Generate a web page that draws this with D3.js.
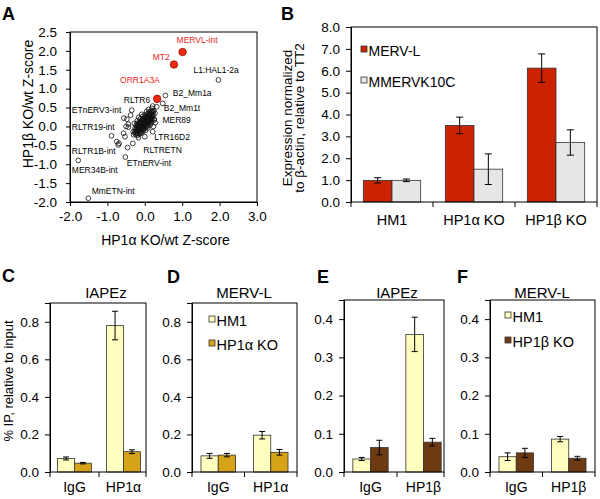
<!DOCTYPE html>
<html><head><meta charset="utf-8">
<script src="https://cdn.jsdelivr.net/npm/d3@7"></script>
<style>
body{margin:0;background:#fff}
svg{display:block}
text{font-family:"Liberation Sans",Arial,Helvetica,sans-serif;fill:#000}
</style></head>
<body><svg id="c" width="600" height="499"></svg>
<script>
// ---------------- DATA ----------------
// Panel A: scatter of Z-scores (x: HP1a KO/wt, y: HP1b KO/wt)
const scatterPoints = [
 [-0.30,-0.22],[-0.27,-0.15],[-0.25,-0.20],[-0.24,-0.08],[-0.22,-0.12],[-0.21,-0.02],[-0.20,-0.18],[-0.19,0.05],
 [-0.18,-0.06],[-0.17,0.02],[-0.16,-0.14],[-0.15,0.10],[-0.14,-0.03],[-0.13,0.06],[-0.12,-0.09],[-0.11,0.14],
 [-0.10,0.01],[-0.09,0.08],[-0.08,-0.05],[-0.07,0.18],[-0.06,0.04],[-0.05,0.11],[-0.04,-0.01],[-0.03,0.15],
 [-0.02,0.07],[-0.01,0.22],[0.00,0.03],[0.01,0.12],[0.02,0.18],[0.03,0.08],[0.04,0.25],[0.05,0.14],
 [0.06,0.20],[0.07,0.05],[0.08,0.28],[0.09,0.16],[0.10,0.23],[0.11,0.10],[0.12,0.31],[0.13,0.19],
 [0.14,0.26],[0.15,0.14],[0.16,0.34],[0.17,0.22],[0.18,0.29],[0.20,0.38],[0.21,0.25],[0.22,0.32],
 [0.24,0.42],[0.25,0.20],[-0.26,-0.05],[-0.23,0.03],[-0.19,-0.24],[-0.15,-0.20],[-0.12,0.20],[-0.09,-0.12],
 [-0.06,0.26],[-0.03,-0.08],[0.00,0.30],[0.03,-0.02],[0.06,0.33],[0.09,0.02],[0.12,0.38],[0.15,0.05],
 [0.18,0.12],[-0.10,-0.18],[-0.05,-0.14],[0.02,-0.10],[0.08,-0.04],[-0.28,0.08],[-0.20,0.15],[-0.16,0.24],
 [-0.08,0.32],[0.05,0.40],[0.10,0.45],[0.19,0.48],[0.27,0.35],[0.28,0.10],
 [-0.22,-0.20],[-0.20,-0.09],[-0.18,0.00],[-0.16,-0.08],[-0.14,0.02],[-0.13,-0.16],[-0.11,-0.02],[-0.10,0.08],
 [-0.08,0.12],[-0.07,-0.09],[-0.05,0.02],[-0.04,0.19],[-0.02,-0.04],[-0.01,0.10],[0.00,0.16],[0.01,0.05],
 [0.02,0.24],[0.04,0.11],[0.05,0.02],[0.06,0.27],[0.07,0.15],[0.08,0.21],[0.10,0.11],[0.11,0.32],
 [0.12,0.17],[0.13,0.24],[0.14,0.35],[0.16,0.18],[0.17,0.40],[0.19,0.21],[0.20,0.30],[0.22,0.40],
 [-0.24,-0.14],[-0.21,0.08],[-0.17,-0.11],[-0.12,0.11],[-0.06,-0.02],[-0.03,0.04],[0.03,0.14],[0.09,0.27],
 [-0.35,0.43],[-0.38,0.30],[-0.50,0.00],[-0.56,0.22],[-0.44,0.06],[-0.44,-0.02],[-0.48,0.19],[-0.57,-0.18],
 [-0.31,-0.14],[-0.17,-0.30],[0.00,-0.27],[0.21,-0.14],[0.23,0.00],[0.25,0.17],[0.32,0.52],[0.21,0.54],
 [0.32,0.70],[0.48,0.61],[0.55,0.82],[1.97,1.23],
 [-0.89,-0.25],[-0.75,-0.40],[-0.71,-0.49],[-0.69,-0.45],[-0.46,-0.56],[-0.52,-0.81],[-0.32,-0.45],[-0.53,-0.27],
 [-1.78,-0.90],[-1.51,-1.90]
];
const highlightNames = ["MERVL-int","MT2","ORR1A3A"];
const highlightX = [1.01, 0.78, 0.33];
const highlightY = [1.97, 1.64, 0.73];
const labelNames = ["L1:HAL1-2a","B2_Mm1a","RLTR6","B2_Mm1t","ETnERV3-int","MER89","RLTR19-int","LTR16D2",
                    "RLTRETN","RLTR1B-int","ETnERV-int","MER34B-int","MmETN-int"];
const labelX = [1.30, 0.75, -0.56, 0.51, -1.95, 0.47, -1.95, 0.25, -0.04, -1.95, -0.48, -1.95, -1.42];
const labelY = [1.41, 0.81, 0.62, 0.41, 0.36, 0.08, -0.09, -0.35, -0.70, -0.74, -1.05, -1.23, -1.79];
const highlightLabelX = [0.85, 0.21, -0.66];
const highlightLabelY = [2.21, 1.76, 1.15];
const aXTicks = [-2, -1, 0, 1, 2, 3];
const aYTicks = [-2, -1.5, -1, -0.5, 0, 0.5, 1, 1.5, 2, 2.5];

// Panel B: expression
const bCategories = ["HM1", "HP1\u03b1 KO", "HP1\u03b2 KO"];
const bSeriesNames = ["MERV-L", "MMERVK10C"];
const bMervl = [0.99, 3.50, 6.12];
const bMervlErr = [0.12, 0.38, 0.65];
const bMmervk = [0.99, 1.50, 2.72];
const bMmervkErr = [0.06, 0.70, 0.58];
const bTicks = [0, 1, 2, 3, 4, 5, 6, 7, 8];

// Panels C-F: ChIP % IP
const chipTicksCD = [0, 0.2, 0.4, 0.6, 0.8];
const chipTicksEF = [0, 0.1, 0.2, 0.3, 0.4];
const cCategories = ["IgG", "HP1\u03b1"];
const cHM1 = [0.072, 0.780];  const cHM1Err = [0.008, 0.076];
const cKO  = [0.047, 0.108];  const cKOErr  = [0.004, 0.010];
const dHM1 = [0.086, 0.196];  const dHM1Err = [0.013, 0.020];
const dKO  = [0.090, 0.105];  const dKOErr  = [0.009, 0.015];
const eCategories = ["IgG", "HP1\u03b2"];
const eHM1 = [0.034, 0.360];  const eHM1Err = [0.004, 0.045];
const eKO  = [0.064, 0.078];  const eKOErr  = [0.019, 0.010];
const fHM1 = [0.040, 0.086];  const fHM1Err = [0.010, 0.007];
const fKO  = [0.050, 0.036];  const fKOErr  = [0.012, 0.005];
const legendCD = ["HM1", "HP1\u03b1 KO"];
const legendEF = ["HM1", "HP1\u03b2 KO"];

// ---------------- DRAW ----------------
const svg = d3.select("#c");
svg.append("rect").attr("width",600).attr("height",499).attr("fill","#fff");
const FONT_TICK = "13.5px";
const fmt1 = v => v.toFixed(1);

function styleAxis(g){
  g.selectAll("path.domain").attr("stroke","#000").attr("stroke-width",1);
  g.selectAll(".tick line").attr("stroke","#000").attr("stroke-width",1);
  g.selectAll(".tick text").attr("font-size",FONT_TICK).attr("fill","#000")
    .attr("font-family","'Liberation Sans',Arial,sans-serif");
}
function letter(t,x,y){
  svg.append("text").attr("x",x).attr("y",y).attr("font-size","18px").attr("font-weight","bold").text(t);
}

// ---- Panel A ----
(function(){
  const L=70,R=257,T=32,B=202;
  const x = d3.scaleLinear().domain([-2,3]).range([L,R]);
  const y = d3.scaleLinear().domain([-2,2.5]).range([B,T]);
  const g = svg.append("g");
  g.append("rect").attr("x",L).attr("y",T).attr("width",R-L).attr("height",B-T)
    .attr("fill","none").attr("stroke","#000").attr("stroke-width",1);
  const gx = g.append("g").attr("transform",`translate(0,${B})`)
    .call(d3.axisBottom(x).tickValues(aXTicks).tickFormat(fmt1).tickSize(4).tickPadding(5));
  styleAxis(gx);
  const gy = g.append("g").attr("transform",`translate(${L},0)`)
    .call(d3.axisLeft(y).tickValues(aYTicks).tickFormat(fmt1).tickSize(4).tickPadding(9));
  styleAxis(gy);
  g.selectAll("circle.pt").data(scatterPoints).enter().append("circle")
    .attr("cx",d=>x(d[0])).attr("cy",d=>y(d[1])).attr("r",2.4)
    .attr("fill","none").attr("stroke","#111").attr("stroke-width",0.8);
  g.selectAll("circle.hl").data(highlightNames).enter().append("circle")
    .attr("cx",(d,i)=>x(highlightX[i])).attr("cy",(d,i)=>y(highlightY[i])).attr("r",3.8)
    .attr("fill","#f02a10").attr("stroke","#700").attr("stroke-width",0.6);
  g.selectAll("text.lab").data(labelNames).enter().append("text")
    .attr("x",(d,i)=>x(labelX[i])).attr("y",(d,i)=>y(labelY[i]))
    .attr("font-size","8.5px").attr("fill","#111").text(d=>d);
  g.selectAll("text.hlab").data(highlightNames).enter().append("text")
    .attr("x",(d,i)=>x(highlightLabelX[i])).attr("y",(d,i)=>y(highlightLabelY[i]))
    .attr("font-size","8.5px").style("fill","#e8261c").text(d=>d);
  svg.append("text").attr("x",(L+R)/2+2).attr("y",245).attr("text-anchor","middle")
    .attr("font-size","14px").text("HP1\u03b1 KO/wt Z-score");
  svg.append("text").attr("transform","translate(33,104) rotate(-90)").attr("text-anchor","middle")
    .attr("font-size","14px").text("HP1\u03b2 KO/wt Z-score");
  letter("A",2,20);
})();

// ---- generic grouped bar panel ----
function barPanel(o){
  const x0 = d3.scaleBand().domain(o.cats).range([o.L,o.RS]).paddingInner(0).paddingOuter(0);
  const x1 = d3.scaleBand().domain(d3.range(o.series.length)).range([0,x0.bandwidth()])
    .paddingInner(0).paddingOuter(o.pad);
  const y = d3.scaleLinear().domain([0,o.yMax]).range([o.B,o.T]);
  const g = svg.append("g");
  o.series.forEach((s,si)=>{
    g.selectAll(null).data(s.vals).enter().append("rect")
      .attr("x",(d,i)=>x0(o.cats[i])+x1(si)).attr("width",x1.bandwidth())
      .attr("y",d=>y(d)).attr("height",d=>y(0)-y(d))
      .attr("fill",s.color).attr("stroke","#333").attr("stroke-width",0.8);
  });
  o.series.forEach((s,si)=>{
    s.vals.forEach((v,i)=>{
      const cx = x0(o.cats[i])+x1(si)+x1.bandwidth()/2;
      const e = s.errs[i];
      g.append("line").attr("x1",cx).attr("x2",cx).attr("y1",y(v-e)).attr("y2",y(v+e))
        .attr("stroke","#000").attr("stroke-width",1);
      [v-e,v+e].forEach(w=>g.append("line").attr("x1",cx-o.cap).attr("x2",cx+o.cap)
        .attr("y1",y(w)).attr("y2",y(w)).attr("stroke","#000").attr("stroke-width",1));
    });
  });
  g.append("rect").attr("x",o.L).attr("y",o.T).attr("width",o.R-o.L).attr("height",o.B-o.T)
    .attr("fill","none").attr("stroke","#000").attr("stroke-width",1);
  const gy = g.append("g").attr("transform",`translate(${o.L},0)`)
    .call(d3.axisLeft(y).tickValues(o.ticks).tickFormat(fmt1).tickSize(5).tickPadding(6));
  styleAxis(gy);
  const bounds = d3.range(o.cats.length+1).map(i=>o.L+i*x0.bandwidth());
  g.selectAll(null).data(bounds).enter().append("line")
    .attr("x1",d=>Math.min(d,o.R)).attr("x2",d=>Math.min(d,o.R)).attr("y1",o.B).attr("y2",o.B+5)
    .attr("stroke","#000").attr("stroke-width",1);
  g.selectAll(null).data(o.cats).enter().append("text")
    .attr("x",d=>x0(d)+x0.bandwidth()/2).attr("y",o.catY).attr("text-anchor","middle")
    .attr("font-size",o.catFont).text(d=>d);
  if(o.legend){
    o.legend.forEach((name,i)=>{
      const ly = o.legend0 + i*o.legendStep;
      g.append("rect").attr("x",o.legendX).attr("y",ly-o.sq-4).attr("width",o.sq).attr("height",o.sq)
        .attr("fill",o.series[i].color).attr("stroke","#333").attr("stroke-width",0.8);
      g.append("text").attr("x",o.legendX+o.sq+1.5).attr("y",ly).attr("font-size",o.legendFont).text(name);
    });
  }
  if(o.title){
    svg.append("text").attr("x",o.titleX).attr("y",298).attr("text-anchor","middle")
      .attr("font-size","15px").text(o.title);
  }
}

// ---- Panel B ----
barPanel({L:351,R:597,RS:597,T:27,B:202,yMax:8,ticks:bTicks,cats:bCategories,pad:0.43,cap:3.5,
  series:[{vals:bMervl,errs:bMervlErr,color:"#cc2200"},{vals:bMmervk,errs:bMmervkErr,color:"#e6e6e6"}],
  catY:225,catFont:"14.5px",legend:bSeriesNames,legendX:361,legend0:56,legendStep:31,sq:6,legendFont:"14px"});
svg.append("text").attr("transform","translate(292,118) rotate(-90)").attr("text-anchor","middle")
  .attr("font-size","13.5px").text("Expression normalized");
svg.append("text").attr("transform","translate(304,118) rotate(-90)").attr("text-anchor","middle")
  .attr("font-size","13.5px").text("to \u03b2-actin, relative to TT2");
letter("B",281,20);

// ---- Panels C-F ----
const cHM1Color = "#ffffc0", kaColor = "#d6a318", kbColor = "#6e3a12";
barPanel({L:50,R:146,RS:148,T:303,B:472,yMax:0.9,ticks:chipTicksCD,cats:cCategories,pad:0.45,cap:3,
  series:[{vals:cHM1,errs:cHM1Err,color:cHM1Color},{vals:cKO,errs:cKOErr,color:kaColor}],
  catY:492,catFont:"14px",title:"IAPEz",titleX:106});
barPanel({L:192,R:297,RS:297,T:303,B:472,yMax:0.9,ticks:chipTicksCD,cats:cCategories,pad:0.52,cap:3,
  series:[{vals:dHM1,errs:dHM1Err,color:cHM1Color},{vals:dKO,errs:dKOErr,color:kaColor}],
  catY:492,catFont:"14px",title:"MERV-L",titleX:244,
  legend:legendCD,legendX:209,legend0:326,legendStep:24,sq:6,legendFont:"14.5px"});
barPanel({L:344,R:444,RS:450,T:300,B:472,yMax:0.45,ticks:chipTicksEF,cats:eCategories,pad:0.5,cap:3,
  series:[{vals:eHM1,errs:eHM1Err,color:cHM1Color},{vals:eKO,errs:eKOErr,color:kbColor}],
  catY:492,catFont:"14px",title:"IAPEz",titleX:397});
barPanel({L:490,R:595,RS:595,T:300,B:472,yMax:0.45,ticks:chipTicksEF,cats:eCategories,pad:0.52,cap:3,
  series:[{vals:fHM1,errs:fHM1Err,color:cHM1Color},{vals:fKO,errs:fKOErr,color:kbColor}],
  catY:492,catFont:"14px",title:"MERV-L",titleX:542,
  legend:legendEF,legendX:505,legend0:322,legendStep:25,sq:6,legendFont:"14.5px"});
svg.append("text").attr("transform","translate(13,381) rotate(-90)").attr("text-anchor","middle")
  .attr("font-size","13px").text("% IP, relative to input");
letter("C",2,282); letter("D",167,283); letter("E",317,283); letter("F",457,283);
</script></body></html>
